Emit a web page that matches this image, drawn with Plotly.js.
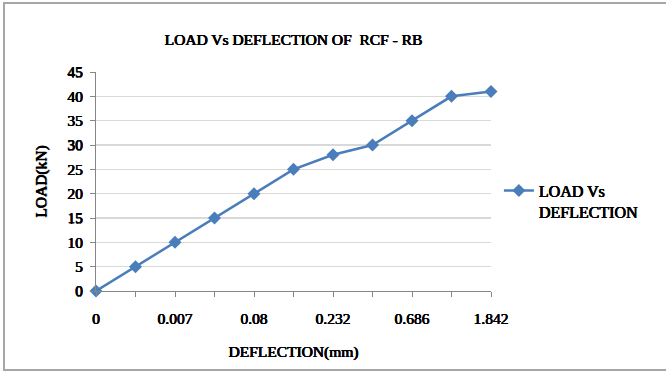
<!DOCTYPE html>
<html>
<head>
<meta charset="utf-8">
<script src="https://cdn.plot.ly/plotly-3.0.1.min.js"></script>
<style>
html,body{margin:0;padding:0;background:#fff;}
#chart{width:666px;height:372px;position:relative;}
#frame{position:absolute;left:3px;top:2px;width:700px;height:365px;border:2px solid #a6a6a6;border-right:none;pointer-events:none;}
</style>
</head>
<body>
<div style="position:relative;width:666px;height:372px;overflow:hidden;">
<div id="chart"></div>
<div id="frame"></div>
</div>
<script>
// Deflection categories (mm); intermediate ones are hidden in the original (estimated)
var deflection = ["0", "0.002", "0.007", "0.03", "0.08", "0.15", "0.232", "0.45", "0.686", "1.2", "1.842"];
var shownLabels = ["0", "", "0.007", "", "0.08", "", "0.232", "", "0.686", "", "1.842"];
var load = [0, 5, 10, 15, 20, 25, 28, 30, 35, 40, 41];
var yTicks = [0, 5, 10, 15, 20, 25, 30, 35, 40, 45];

var serif = "Liberation Serif";
var blue = "#4a7ebb";
// regular serif face thickened with a tight text-shadow (bold serif face falls back to sans here)
function bf(size) {
  return {family: serif, size: size, color: "#000", weight: 400,
          shadow: "0.4px 0 0 #000, -0.3px 0 0 #000, 0 0.2px 0 #000"};
}

var trace = {
  x: deflection,
  y: load,
  type: "scatter",
  mode: "lines+markers",
  name: "LOAD Vs<br>DEFLECTION",
  line: {color: blue, width: 2.5},
  marker: {symbol: "diamond", size: 10, color: blue},
  cliponaxis: false
};

var layout = {
  width: 666, height: 372,
  margin: {l: 96, r: 175, t: 72, b: 81},
  paper_bgcolor: "rgba(0,0,0,0)",
  plot_bgcolor: "#fff",
  font: {family: serif, color: "#000"},
  title: {
    text: "LOAD Vs DEFLECTION OF  RCF - RB",
    font: bf(15.5),
    xref: "paper", x: 0.5, xanchor: "center",
    yref: "container", y: 0.893, yanchor: "middle"
  },
  xaxis: {
    type: "category",
    range: [0, deflection.length - 1],
    tickmode: "array",
    tickvals: deflection,
    ticktext: shownLabels,
    ticks: "outside", ticklen: 5, tickcolor: "#868686", tickwidth: 1,
    ticklabelstandoff: 8,
    showline: true, linecolor: "#868686", linewidth: 1,
    showgrid: false, zeroline: false,
    tickfont: bf(15.5),
    title: {text: "DEFLECTION(mm)", font: bf(15.5), standoff: 20}
  },
  yaxis: {
    range: [0, 45],
    tickmode: "array",
    tickvals: yTicks,
    ticks: "outside", ticklen: 5, tickcolor: "#868686", tickwidth: 1,
    ticklabelstandoff: 4,
    showline: true, linecolor: "#868686", linewidth: 1,
    showgrid: true, gridcolor: "#d9d9d9", gridwidth: 1.3,
    zeroline: false,
    tickfont: bf(15.5),
    title: {text: "LOAD(kN)", font: bf(15.5), standoff: 16}
  },
  showlegend: true,
  legend: {
    x: 1.02, xanchor: "left", y: 0.41, yanchor: "middle",
    valign: "top",
    font: bf(16),
    bgcolor: "rgba(0,0,0,0)", itemwidth: 30, tracegroupgap: 0
  }
};

function draw() {
  Plotly.newPlot("chart", [trace], layout, {displayModeBar: false, staticPlot: true});
}
draw();
if (document.fonts && document.fonts.load) {
  document.fonts.load("15px 'Liberation Serif'").then(draw, draw);
}
</script>
</body>
</html>
